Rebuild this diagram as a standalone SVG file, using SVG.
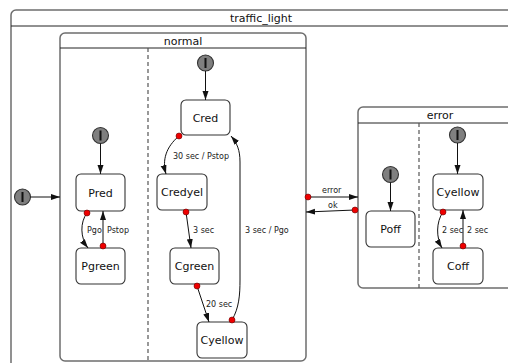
<svg xmlns="http://www.w3.org/2000/svg" width="508" height="363" viewBox="0 0 508 363">
  <style>
    .frame { fill: #fff; stroke: #6e6e6e; stroke-width: 1.5; }
    .sep { stroke: #222; stroke-width: 1; }
    .div { stroke: #555; stroke-width: 1.2; stroke-dasharray: 4 3; }
    .state { fill: #fff; stroke: #333; stroke-width: 1.1; }
    .init { fill: #7f7f7f; stroke: #333; stroke-width: 1.1; }
    .ibar { stroke: #111; stroke-width: 2; }
    .title { font-family: "DejaVu Sans", Verdana, sans-serif; font-size: 11px; fill: #111; text-anchor: middle; }
    .name { font-family: "DejaVu Sans", Verdana, sans-serif; font-size: 11px; fill: #111; text-anchor: middle; }
    .lbl { font-family: "DejaVu Sans", Verdana, sans-serif; font-size: 8px; fill: #222; }
    .edge { fill: none; stroke: #111; stroke-width: 1; marker-end: url(#arrow); }
    .src { fill: #e00; stroke: #600; stroke-width: 0.6; }
  </style>
  <defs>
    <marker id="arrow" markerUnits="userSpaceOnUse" markerWidth="10" markerHeight="7" refX="9" refY="3" orient="auto">
      <path d="M0,0 L9,3 L0,6 z" fill="#111"/>
    </marker>
  </defs>

  <rect width="508" height="363" fill="#fff"/>

  <!-- composite state: traffic_light -->
  <g id="traffic_light">
    <rect class="frame" x="11" y="10" width="510" height="370" rx="5"/>
    <line class="sep" x1="11" y1="26" x2="521" y2="26"/>
    <text class="title" x="261" y="22">traffic_light</text>
  </g>

  <!-- composite state: normal -->
  <g id="normal">
    <rect class="frame" x="60" y="33" width="246" height="328" rx="5"/>
    <line class="sep" x1="60" y1="48" x2="306" y2="48"/>
    <text class="title" x="183" y="45">normal</text>
    <line class="div" x1="148" y1="48" x2="148" y2="361"/>
  </g>

  <!-- composite state: error -->
  <g id="error">
    <rect class="frame" x="358" y="107" width="170" height="181" rx="5"/>
    <line class="sep" x1="358" y1="123" x2="528" y2="123"/>
    <text class="title" x="440" y="119">error</text>
    <line class="div" x1="419" y1="123" x2="419" y2="288"/>
  </g>

  <!-- initial pseudo-states -->
  <g id="init_top">
    <circle class="init" cx="22.5" cy="197" r="8"/>
    <line class="ibar" x1="22.5" y1="192" x2="22.5" y2="202"/>
  </g>
  <g id="init_p">
    <circle class="init" cx="100.5" cy="135.5" r="8"/>
    <line class="ibar" x1="100.5" y1="130.5" x2="100.5" y2="140.5"/>
  </g>
  <g id="init_c">
    <circle class="init" cx="205.5" cy="63" r="8"/>
    <line class="ibar" x1="205.5" y1="58" x2="205.5" y2="68"/>
  </g>
  <g id="init_poff">
    <circle class="init" cx="390.5" cy="174.5" r="8"/>
    <line class="ibar" x1="390.5" y1="169.5" x2="390.5" y2="179.5"/>
  </g>
  <g id="init_cyellow_err">
    <circle class="init" cx="457.5" cy="135" r="8"/>
    <line class="ibar" x1="457.5" y1="130" x2="457.5" y2="140"/>
  </g>

  <!-- simple states -->
  <g id="Pred">
    <rect class="state" x="76" y="174" width="49" height="37" rx="5"/>
    <text class="name" x="100.5" y="196.5">Pred</text>
  </g>
  <g id="Pgreen">
    <rect class="state" x="76" y="248" width="49" height="36" rx="5"/>
    <text class="name" x="100.5" y="270">Pgreen</text>
  </g>
  <g id="Cred">
    <rect class="state" x="181" y="100" width="49" height="35" rx="5"/>
    <text class="name" x="205.5" y="121.5">Cred</text>
  </g>
  <g id="Credyel">
    <rect class="state" x="157" y="174" width="50" height="36" rx="5"/>
    <text class="name" x="182" y="196">Credyel</text>
  </g>
  <g id="Cgreen">
    <rect class="state" x="170" y="248" width="49" height="36" rx="5"/>
    <text class="name" x="194.5" y="270">Cgreen</text>
  </g>
  <g id="Cyellow">
    <rect class="state" x="197" y="322" width="50" height="36" rx="5"/>
    <text class="name" x="222" y="344">Cyellow</text>
  </g>
  <g id="Poff">
    <rect class="state" x="366" y="211" width="49" height="36" rx="5"/>
    <text class="name" x="390.5" y="233">Poff</text>
  </g>
  <g id="Cyellow_err">
    <rect class="state" x="433" y="174" width="50" height="36" rx="5"/>
    <text class="name" x="458" y="196">Cyellow</text>
  </g>
  <g id="Coff">
    <rect class="state" x="433" y="248" width="50" height="36" rx="5"/>
    <text class="name" x="458" y="270">Coff</text>
  </g>

  <!-- transitions -->
  <g id="connectors">
    <path class="edge" d="M30.5,197 L60,197"/>
    <path class="edge" d="M100.5,143.5 L100.5,174"/>
    <path class="edge" d="M205.5,71 L205.5,100"/>
    <path class="edge" d="M390.5,182.5 L390.5,211"/>
    <path class="edge" d="M457.5,143 L457.5,174"/>

    <path class="edge" d="M87,213 C80,222 80,238 88,248"/>
    <path class="edge" d="M103,246 L103,211"/>
    <path class="edge" d="M179,136 C166,147 162,160 166,174"/>
    <path class="edge" d="M186,212 L191,248"/>
    <path class="edge" d="M197,286 L209,322"/>
    <path class="edge" d="M232,320 C239,308 240,295 240,280 L240,162 C240,150 237,143 231,136"/>
    <path class="edge" d="M308,197 L358,197"/>
    <path class="edge" d="M355,210 L306,212"/>
    <path class="edge" d="M443,212 C436,222 436,238 442,248"/>
    <path class="edge" d="M463,246 L463,210"/>

    <circle class="src" cx="87" cy="213" r="3"/>
    <circle class="src" cx="103" cy="246" r="3"/>
    <circle class="src" cx="179" cy="136" r="3"/>
    <circle class="src" cx="186" cy="212" r="3"/>
    <circle class="src" cx="197" cy="286" r="3"/>
    <circle class="src" cx="232" cy="320" r="3"/>
    <circle class="src" cx="308" cy="197" r="3"/>
    <circle class="src" cx="355" cy="210" r="3"/>
    <circle class="src" cx="443" cy="212" r="3"/>
    <circle class="src" cx="463" cy="246" r="3"/>

    <text class="lbl" x="87" y="233">Pgo</text>
    <text class="lbl" x="107" y="233">Pstop</text>
    <text class="lbl" x="173" y="159">30 sec / Pstop</text>
    <text class="lbl" x="193" y="233">3 sec</text>
    <text class="lbl" x="206" y="307">20 sec</text>
    <text class="lbl" x="245" y="233">3 sec / Pgo</text>
    <text class="lbl" x="322" y="193">error</text>
    <text class="lbl" x="328" y="208">ok</text>
    <text class="lbl" x="442" y="233">2 sec</text>
    <text class="lbl" x="467" y="233">2 sec</text>
  </g>
</svg>
